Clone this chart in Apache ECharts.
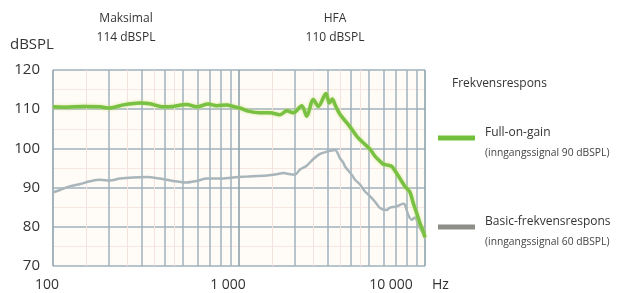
<!DOCTYPE html>
<html>
<head>
<meta charset="utf-8">
<script src="https://cdn.jsdelivr.net/npm/echarts@6/dist/echarts.min.js"></script>
<style>
  html, body { margin: 0; padding: 0; background: #fff; }
  #chart { width: 622px; height: 293px; }
</style>
</head>
<body>
<div id="chart"></div>
<script>
var fullFreq = [100, 118, 146, 179, 202, 239, 294, 332, 392, 443, 523, 592, 684, 759, 859, 932, 1012, 1122, 1297, 1468, 1661, 1806, 1959, 2175, 2313, 2509, 2669, 2935, 3060, 3175, 3280, 3460, 3640, 3953, 4295, 4473, 4758, 5062, 5385, 5728, 5966, 6347, 6622, 6899, 7337, 7806, 8305, 8650, 9024, 9398, 9792, 10000];
var fullGain = [110.6, 110.5, 110.7, 110.6, 110.3, 111.1, 111.6, 111.4, 110.6, 110.7, 111.2, 110.6, 111.3, 110.9, 111.1, 110.7, 110.3, 109.5, 109.1, 109.1, 108.6, 109.6, 109.1, 110.9, 108.2, 112.5, 110.7, 114.0, 111.6, 112.6, 111.2, 109.0, 107.6, 105.5, 103.1, 102.2, 101.0, 99.8, 98.0, 96.7, 96.0, 95.7, 95.4, 94.3, 92.3, 90.3, 88.8, 86.0, 83.5, 80.9, 78.8, 77.3];

var basicFreq = [100, 109, 123, 140, 158, 179, 202, 229, 270, 319, 376, 443, 523, 592, 671, 790, 932, 1100, 1409, 1595, 1731, 1880, 2000, 2128, 2313, 2509, 2726, 2935, 3280, 3491, 3640, 3715, 4036, 4205, 4473, 4758, 4963, 5385, 5728, 6223, 6483, 7045, 7643, 7806, 8133, 8474, 8836, 9204, 9581, 10000];
var basicResp = [88.8, 89.4, 90.3, 90.9, 91.6, 92.0, 91.8, 92.3, 92.6, 92.7, 92.3, 91.7, 91.3, 91.7, 92.3, 92.3, 92.6, 92.8, 93.1, 93.4, 93.7, 93.4, 93.3, 94.6, 95.6, 97.3, 98.6, 99.1, 99.6, 97.5, 96.3, 95.4, 93.3, 92.0, 90.8, 89.0, 88.2, 86.4, 84.8, 84.3, 84.9, 85.2, 85.9, 85.6, 83.0, 81.8, 82.4, 80.5, 79.0, 77.3];

var minorFreqs = [200, 300, 400, 500, 600, 700, 800, 900, 2000, 3000, 4000, 5000, 6000, 7000, 8000, 9000];
var faintFreqs = [150, 250, 350, 450, 1500, 2500, 3500, 4500];
var xTickLabels = { 100: '100', 1000: '1 000', 10000: '10 000' };
var yTicks = [70, 80, 90, 100, 110, 120];

function pairs(xs, ys) {
  var out = [];
  for (var i = 0; i < xs.length; i++) out.push([xs[i], ys[i]]);
  return out;
}

var chart = echarts.init(document.getElementById('chart'));
var font = '"Open Sans", sans-serif';
var gridColor = '#9fb2bc';

chart.setOption({
  animation: false,
  textStyle: { fontFamily: font },
  grid: {
    left: 53, right: 197, top: 70, bottom: 27,
    show: true, backgroundColor: '#fffbf6', borderWidth: 0
  },
  xAxis: {
    type: 'log',
    logBase: 10,
    min: 100,
    max: 10000,
    axisLine: { show: false },
    axisTick: { show: false },
    splitLine: { show: true, lineStyle: { color: '#8ea3ad', width: 1.6 } },
    axisLabel: {
      margin: 12,
      formatter: function (v) {
        var t = xTickLabels[Math.round(v)];
        if (!t) return '';
        if (v > 5000) return '{c|' + t + '}';
        if (v > 500) return '{b|' + t + '}';
        return '{a|' + t + '}';
      },
      rich: {
        a: { fontSize: 14, color: '#333', padding: [0, 12, 0, 0] },
        b: { fontSize: 14, color: '#333', padding: [0, 22, 0, 0] },
        c: { fontSize: 14, color: '#333', padding: [0, 68, 0, 0] }
      }
    }
  },
  yAxis: {
    type: 'value',
    min: yTicks[0],
    max: yTicks[yTicks.length - 1],
    interval: 10,
    axisLine: { show: false },
    axisTick: { show: false },
    axisLabel: { fontSize: 15, color: '#333', margin: 13 },
    splitLine: { show: true, lineStyle: { color: gridColor, width: 1.6 } },
    minorTick: { show: false, splitNumber: 2 },
    minorSplitLine: { show: true, lineStyle: { color: '#f6e7e1', width: 1 } }
  },
  legend: {
    orient: 'vertical',
    left: 438,
    top: 127,
    padding: 0,
    itemGap: 58,
    icon: 'rect',
    itemWidth: 37,
    itemHeight: 5,
    selectedMode: false,
    data: [
      { name: 'Full-on-gain', itemStyle: { color: '#72bf3c' } },
      { name: 'Basic-frekvensrespons', itemStyle: { color: '#8e8e88' } }
    ],
    formatter: function (name) {
      var sub = name === 'Full-on-gain' ? '(inngangssignal 90 dBSPL)' : '(inngangssignal 60 dBSPL)';
      return '{a|' + name + '}\n{b|' + sub + '}';
    },
    textStyle: {
      padding: [10, 0, 0, 5],
      rich: {
        a: { fontSize: 12, color: '#333', lineHeight: 20 },
        b: { fontSize: 10.3, color: '#444', lineHeight: 20 }
      }
    }
  },
  graphic: [
    { type: 'text', x: 10, y: 37, style: { text: 'dBSPL', font: '15px ' + font, fill: '#333' } },
    { type: 'text', x: 126, y: 9, style: { text: 'Maksimal\n114 dBSPL', font: '12px ' + font, fill: '#333', align: 'center', lineHeight: 19 } },
    { type: 'text', x: 335, y: 9, style: { text: 'HFA\n110 dBSPL', font: '12px ' + font, fill: '#333', align: 'center', lineHeight: 19 } },
    { type: 'text', x: 452, y: 78, style: { text: 'Frekvensrespons', font: '12px ' + font, fill: '#333' } },
    { type: 'text', x: 432, y: 278, style: { text: 'Hz', font: '14px ' + font, fill: '#333' } }
  ],
  series: [
    {
      name: 'Basic-frekvensrespons',
      type: 'line',
      data: pairs(basicFreq, basicResp),
      showSymbol: false,
      smooth: 0.3,
      z: 3,
      lineStyle: { color: '#a8b5ba', width: 2.5 },
      itemStyle: { color: '#8e8e88' },
      markLine: {
        silent: true,
        symbol: 'none',
        z: 1,
        label: { show: false },
        lineStyle: { color: '#f5e2dc', width: 1, type: 'solid' },
        data: faintFreqs.map(function (f) { return { xAxis: f }; })
      }
    },
    {
      name: 'Full-on-gain',
      type: 'line',
      data: pairs(fullFreq, fullGain),
      showSymbol: false,
      smooth: 0.3,
      z: 4,
      lineStyle: { color: '#78c143', width: 3.5, shadowColor: 'rgba(200,225,120,0.8)', shadowBlur: 3 },
      itemStyle: { color: '#72bf3c' },
      markLine: {
        silent: true,
        symbol: 'none',
        z: 1,
        label: { show: false },
        lineStyle: { color: '#9fb2bc', width: 1.5, type: 'solid', opacity: 1 },
        data: minorFreqs.map(function (f) { return { xAxis: f }; })
      }
    }
  ]
});
</script>
</body>
</html>
